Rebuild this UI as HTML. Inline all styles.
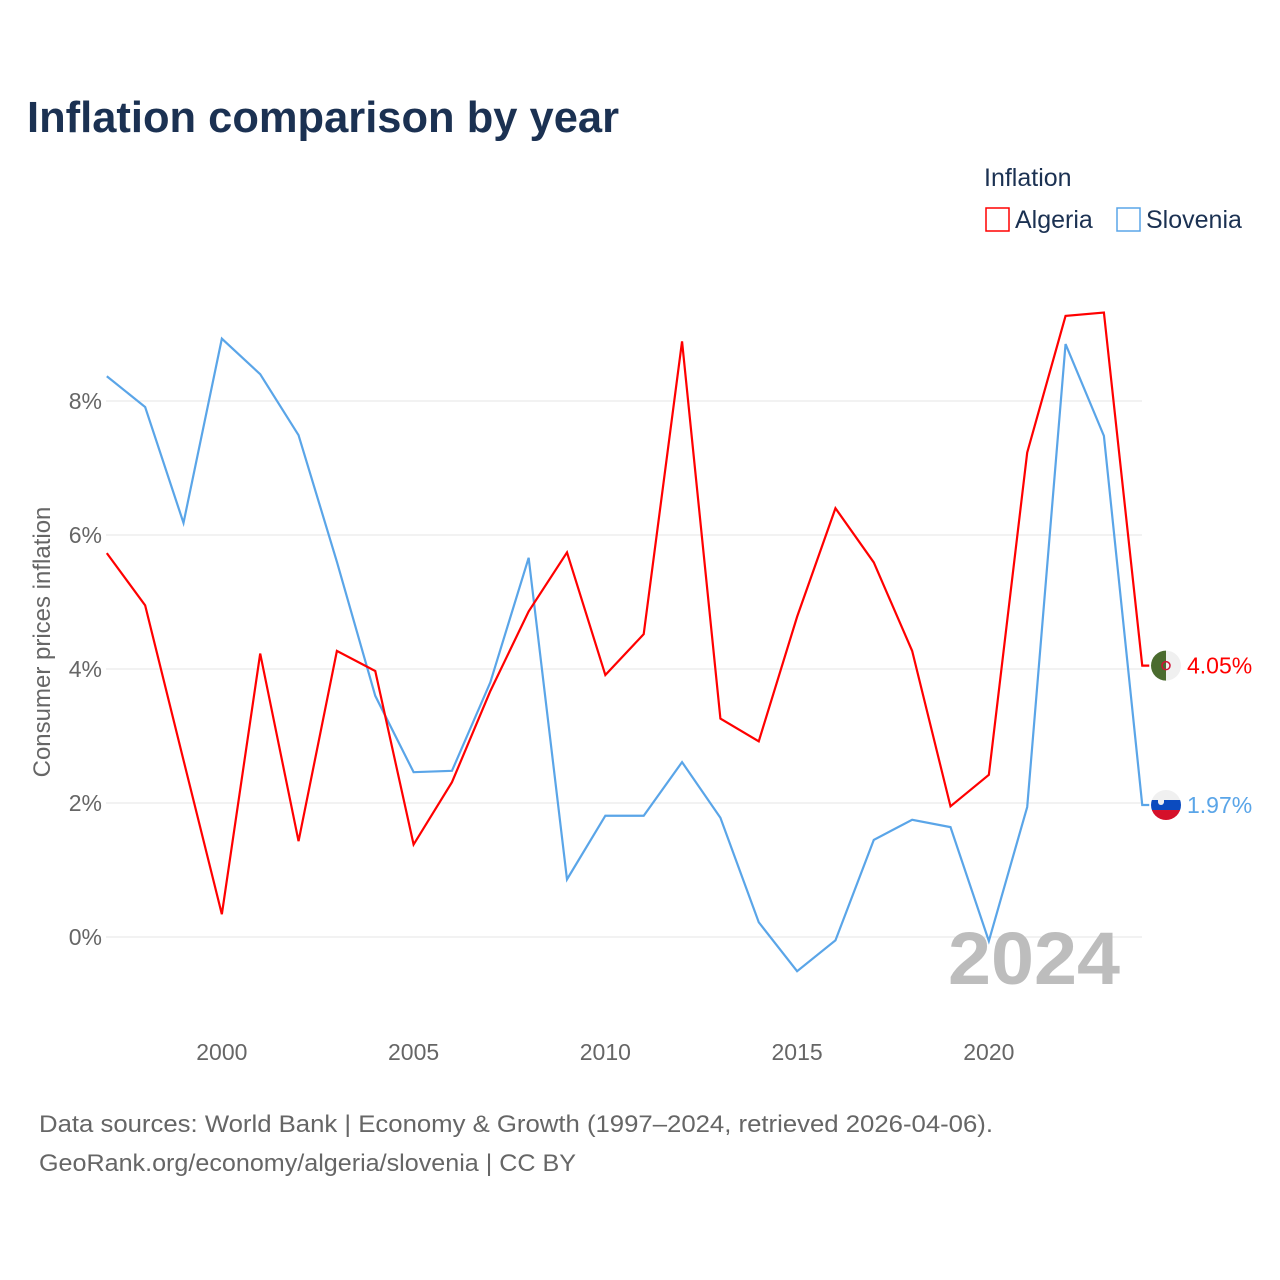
<!DOCTYPE html>
<html><head><meta charset="utf-8"><style>
html,body{margin:0;padding:0;background:#fff;width:1280px;height:1280px;overflow:hidden;font-family:"Liberation Sans",sans-serif}
</style></head><body>
<svg id="chart" width="1280" height="1280" xmlns="http://www.w3.org/2000/svg">
<text x="27" y="132" font-size="44" font-weight="bold" fill="#1b3152" textLength="592" lengthAdjust="spacingAndGlyphs">Inflation comparison by year</text>
<text x="984" y="186" font-size="25" fill="#1b3152">Inflation</text>
<g><rect x="986" y="208" width="23" height="23" fill="none" stroke="#ff0000" stroke-width="1.5"/><text x="1015" y="228" font-size="25" fill="#1b3152">Algeria</text></g>
<g><rect x="1117" y="208" width="23" height="23" fill="none" stroke="#5aa5e8" stroke-width="1.5"/><text x="1146" y="228" font-size="25" fill="#1b3152">Slovenia</text></g>
<g id="grid"></g>
<text x="948" y="984" font-size="74" font-weight="bold" fill="#bdbdbd" textLength="172" lengthAdjust="spacingAndGlyphs">2024</text>
<g id="series"></g>
<text transform="translate(50,642) rotate(-90)" text-anchor="middle" font-size="24" fill="#666">Consumer prices inflation</text>
<text x="39" y="1132" font-size="24" fill="#666" textLength="954" lengthAdjust="spacingAndGlyphs">Data sources: World Bank | Economy &amp; Growth (1997–2024, retrieved 2026-04-06).</text>
<text x="39" y="1171" font-size="24" fill="#666" textLength="537" lengthAdjust="spacingAndGlyphs">GeoRank.org/economy/algeria/slovenia | CC BY</text>
</svg>
<script>
const years=[1997,1998,1999,2000,2001,2002,2003,2004,2005,2006,2007,2008,2009,2010,2011,2012,2013,2014,2015,2016,2017,2018,2019,2020,2021,2022,2023,2024];
const algeria=[5.73,4.95,2.64,0.34,4.23,1.43,4.27,3.97,1.38,2.31,3.67,4.86,5.74,3.91,4.52,8.89,3.26,2.92,4.78,6.40,5.59,4.27,1.95,2.42,7.23,9.27,9.32,4.05];
const slovenia=[8.37,7.91,6.18,8.93,8.40,7.49,5.60,3.60,2.46,2.48,3.80,5.66,0.86,1.81,1.81,2.61,1.78,0.22,-0.51,-0.05,1.45,1.75,1.64,-0.06,1.94,8.85,7.48,1.97];
const yTicks=[0,2,4,6,8];
const xTicks=[2000,2005,2010,2015,2020];
const NS="http://www.w3.org/2000/svg";
const X=y=>106.8+(y-1997)*38.35;
const Y=v=>937-v*67;
function mk(tag,attrs,parent){const e=document.createElementNS(NS,tag);for(const k in attrs)e.setAttribute(k,attrs[k]);parent.appendChild(e);return e;}
const grid=document.getElementById('grid'),ser=document.getElementById('series');
yTicks.forEach(t=>{
 const l=mk('line',{x1:106,x2:1142,y1:Y(t),y2:Y(t),stroke:'#e6e6e6','stroke-width':1},grid);
 
 
 const tx=mk('text',{x:102,y:Y(t)+8,'text-anchor':'end','font-size':23,fill:'#666'},grid);tx.textContent=t+'%';
 
 
});
xTicks.forEach(t=>{
 const tx=mk('text',{x:X(t),y:1060,'text-anchor':'middle','font-size':23,fill:'#666'},grid);tx.textContent=t;
 
 
});
function series(vals,color,name){
 let pts=vals.map((v,i)=>X(years[i])+','+Y(v));
 const last=vals[vals.length-1];
 pts.push((X(years[years.length-1])+7)+','+Y(last));
 const p=mk('polyline',{points:pts.join(' '),fill:'none',stroke:color,'stroke-width':2.2,'stroke-linejoin':'miter'},ser);
 
 
 const cx=1166,cy=Y(last);
 const g=mk('g',{},ser);
 
 
 if(name==='algeria'){
  mk('circle',{cx:cx,cy:cy,r:15,fill:'#f0f0f0'},g);
  mk('path',{d:`M${cx},${cy-15} A15,15 0 0 0 ${cx},${cy+15} Z`,fill:'#4a6b2e'},g);
  mk('circle',{cx:cx,cy:cy,r:4,fill:'none',stroke:'#d21034','stroke-width':1.5},g);
 }else{
  mk('clipPath',{id:'sc'},g);
  mk('circle',{cx:cx,cy:cy,r:15},g.lastChild);
  const gg=mk('g',{'clip-path':'url(#sc)'},g);
  mk('rect',{x:cx-15,y:cy-15,width:30,height:10,fill:'#f0f0f0'},gg);
  mk('rect',{x:cx-15,y:cy-5,width:30,height:10,fill:'#0b4bbf'},gg);
  mk('rect',{x:cx-15,y:cy+5,width:30,height:10,fill:'#d5102a'},gg);
  mk('path',{d:`M${cx-8},${cy-6} h6 v3 a3,3 0 0 1 -6,0 z`,fill:'#f0f0f0'},gg);
 }
 const t=mk('text',{x:1187,y:cy+8,'font-size':23,fill:color},ser);t.textContent=last.toFixed(2)+'%';
 
 
}
series(slovenia,'#5aa5e8','slovenia');
series(algeria,'#ff0000','algeria');
</script>
</body></html>
